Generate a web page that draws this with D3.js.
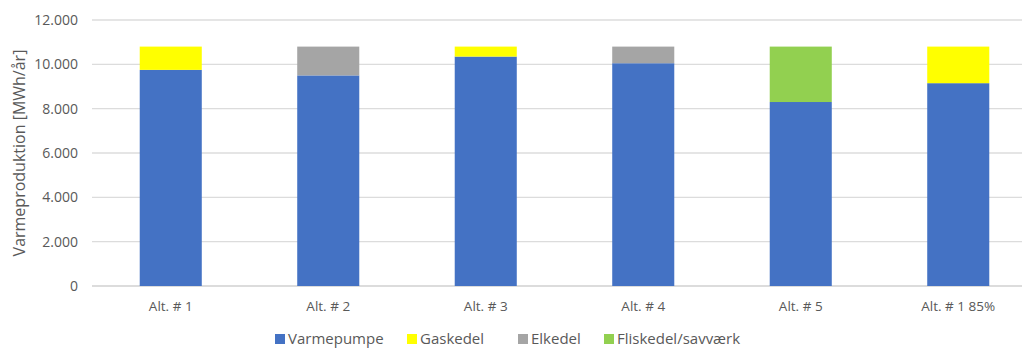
<!DOCTYPE html>
<html><head><meta charset="utf-8">
<script src="https://cdn.jsdelivr.net/npm/d3@7"></script>
<style>body{margin:0;background:#fff;} svg{display:block;font-family:"Open Sans",sans-serif;}</style>
</head><body>
<svg id="c" width="1022" height="348"></svg>
<script>
const categories = ["Alt. # 1","Alt. # 2","Alt. # 3","Alt. # 4","Alt. # 5","Alt. # 1 85%"];
const seriesNames = ["Varmepumpe","Gaskedel","Elkedel","Fliskedel/savværk"];
const varmepumpe = [9750, 9500, 10350, 10050, 8300, 9150];
const gaskedel   = [1050, 0, 450, 0, 0, 1650];
const elkedel    = [0, 1300, 0, 750, 0, 0];
const fliskedel  = [0, 0, 0, 0, 2500, 0];
const yTicks = [0,2000,4000,6000,8000,10000,12000];
const colors = ["#4472C4","#FFFF00","#A5A5A5","#92D050"];

const rows = categories.map((c,i)=>({cat:c,"Varmepumpe":varmepumpe[i],"Gaskedel":gaskedel[i],"Elkedel":elkedel[i],"Fliskedel/savværk":fliskedel[i]}));
const svg = d3.select("#c");
const x = d3.scaleBand().domain(categories).range([92,1037]).paddingInner(0.606).paddingOuter(0.303);
const y = d3.scaleLinear().domain([0,12000]).range([286,20]);
const fmt = v => d3.format(",")(v).replace(/,/g,".");

// grid
svg.append("g").selectAll("line").data(yTicks).join("line")
  .attr("x1",92).attr("x2",1022).attr("y1",d=>y(d)).attr("y2",d=>y(d))
  .attr("stroke",d=>d===0?"#D0D0D0":"#DCDCDC").attr("stroke-width",1.3);

// y tick labels
svg.append("g").selectAll("text").data(yTicks).join("text")
  .attr("x",78).attr("y",d=>y(d)).attr("dy","0.35em").attr("text-anchor","end")
  .attr("font-size",14).attr("fill","#595959").text(fmt);

// y title
svg.append("text").attr("transform","translate(19,153) rotate(-90)")
  .attr("text-anchor","middle").attr("dy","0.35em").attr("font-size",16).attr("fill","#595959")
  .text("Varmeproduktion [MWh/år]");

// bars
const stack = d3.stack().keys(seriesNames)(rows);
svg.append("g").selectAll("g").data(stack).join("g").attr("fill",(d,i)=>colors[i])
  .selectAll("rect").data(d=>d).join("rect")
  .attr("x",d=>x(d.data.cat)).attr("width",x.bandwidth())
  .attr("y",d=>y(d[1])).attr("height",d=>y(d[0])-y(d[1]));

// x labels
svg.append("g").selectAll("text").data(categories).join("text")
  .attr("x",d=>x(d)+x.bandwidth()/2).attr("y",306).attr("dy","0.35em").attr("text-anchor","middle")
  .attr("font-size",13.5).attr("fill","#595959").text(d=>d);

// legend
const legX = [275,407,518,604];
const lg = svg.append("g").selectAll("g").data(seriesNames).join("g")
  .attr("transform",(d,i)=>`translate(${legX[i]},339)`);
lg.append("rect").attr("x",0).attr("y",-5).attr("width",10).attr("height",10).attr("fill",(d,i)=>colors[i]);
lg.append("text").attr("x",13).attr("y",0).attr("dy","0.35em").attr("font-size",15).attr("fill","#595959").text(d=>d);
</script>
</body></html>
